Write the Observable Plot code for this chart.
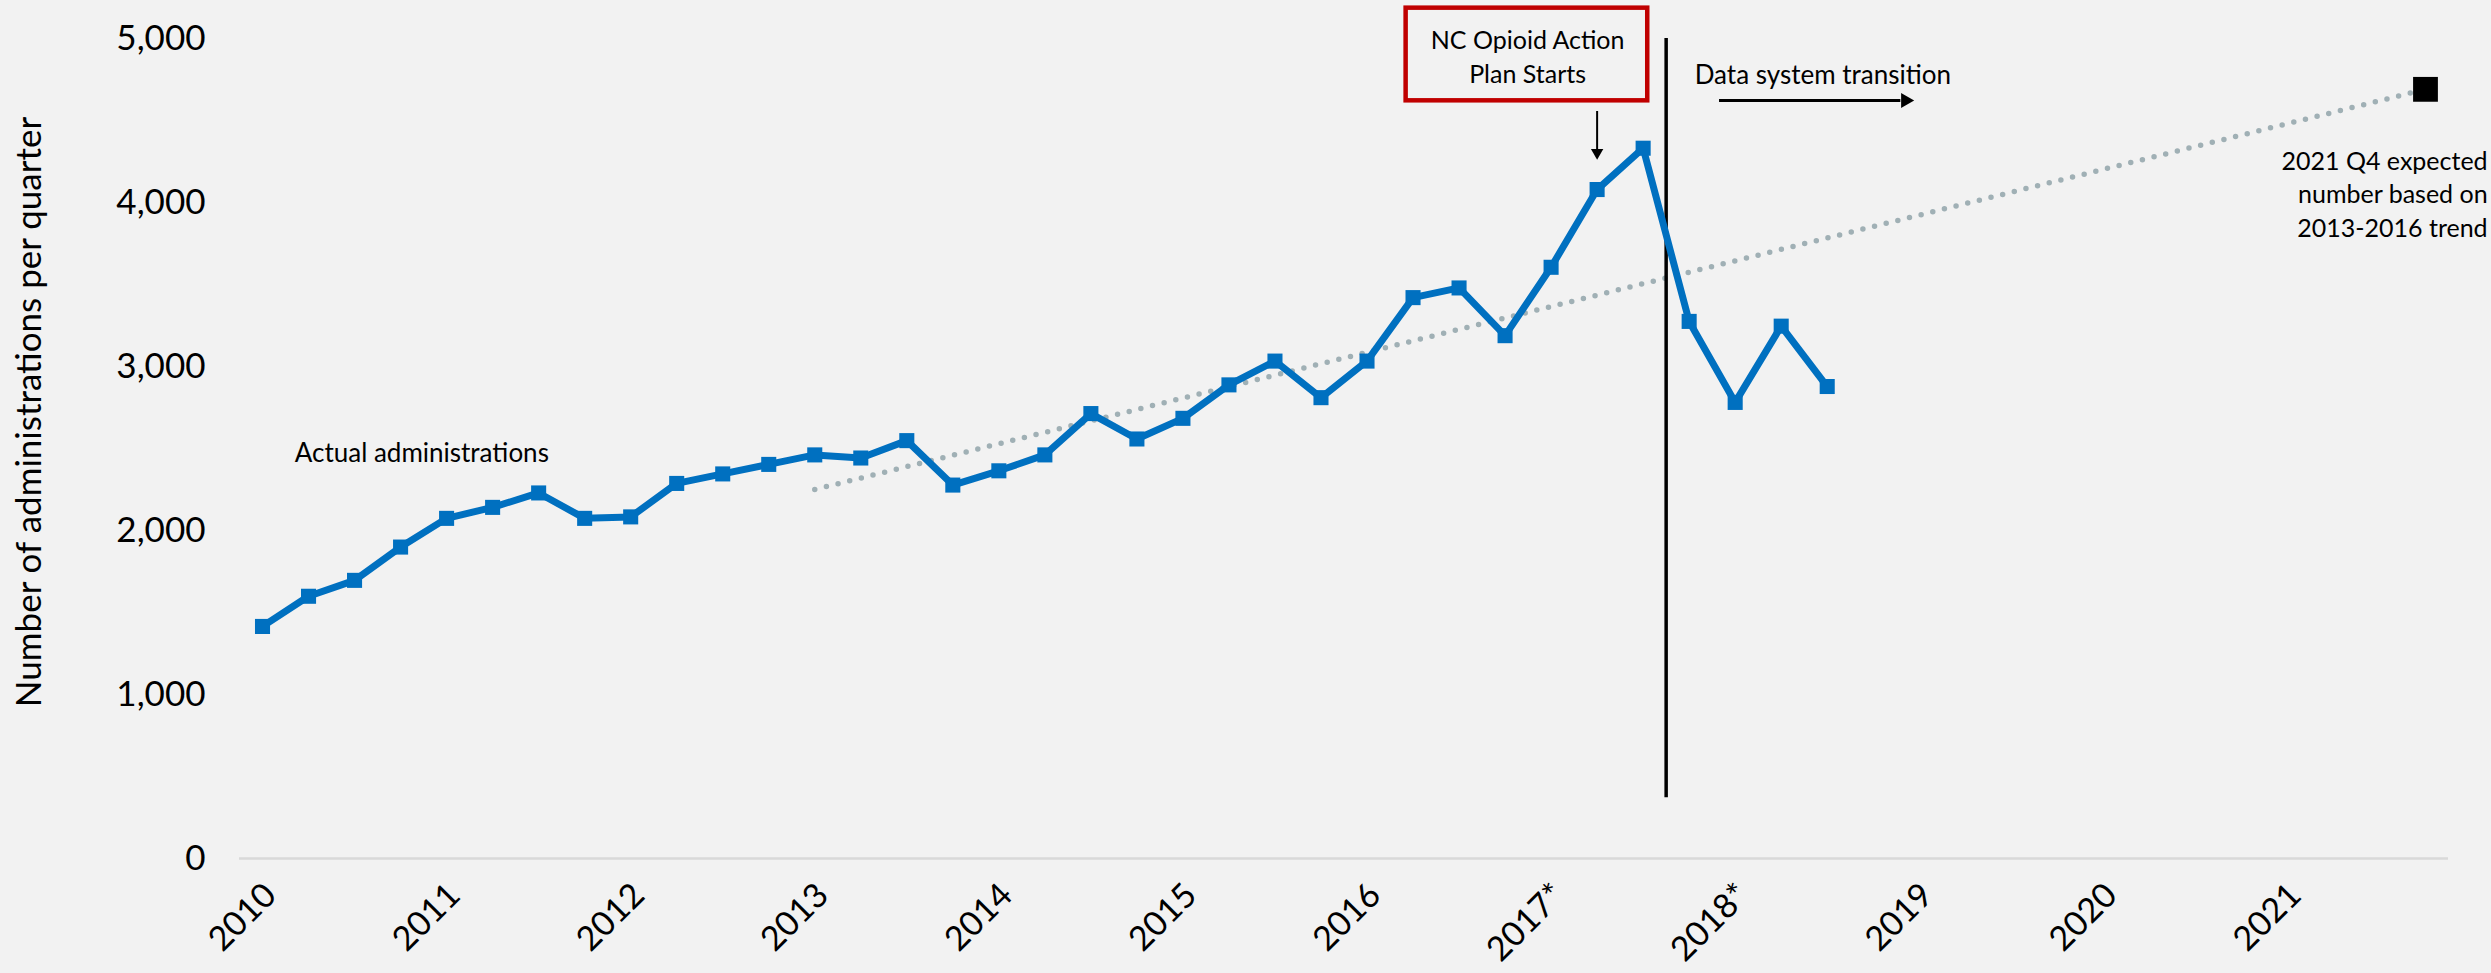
<!DOCTYPE html>
<html><head><meta charset="utf-8">
<script src="https://cdn.jsdelivr.net/npm/d3@7"></script>
<script src="https://cdn.jsdelivr.net/npm/@observablehq/plot@0.6"></script>
<style>
html,body{margin:0;padding:0;background:#F2F2F2;overflow:hidden;}
svg{display:block;}
</style></head><body><div id="chart"></div>
<script>
// Categories: quarters 2010 Q1 .. 2021 Q4
const yearLabels = ["2010","2011","2012","2013","2014","2015","2016","2017*","2018*","2019","2020","2021"];
const quarterLabels = ["Q1","Q2","Q3","Q4"];
const categories = yearLabels.flatMap(y => quarterLabels.map(q => `${y} ${q}`));

// Actual administrations per quarter (2010 Q1 .. 2018 Q3)
const actualValues = [1415,1599,1696,1899,2074,2141,2229,2074,2083,2287,2345,2403,2461,2442,2548,2277,2364,2461,2713,2558,2684,2888,3033,2810,3033,3420,3479,3188,3605,4079,4331,3275,2781,3246,2878];

// 2013-2016 trend line endpoints
const trendQuarters = ["2013 Q1","2021 Q4"];
const trendValues = [2250, 4690];

// Expected value marker
const expectedQuarter = "2021 Q4";
const expectedValue = 4690;

const yTicks = [0,1000,2000,3000,4000,5000];
const yTitle = "Number of administrations per quarter";

const idx = c => categories.indexOf(c);
const actual = actualValues.map((v,i) => ({q: i, v, label: categories[i]}));
const trend = trendQuarters.map((c,i) => ({q: idx(c), v: trendValues[i]}));
const expected = [{q: idx(expectedQuarter), v: expectedValue}];
const xTicks = yearLabels.map(y => idx(`${y} Q1`));
const transitionQ = (idx("2017* Q3") + idx("2017* Q4")) / 2;

const font = "Lato, 'Open Sans', sans-serif";

const chart = Plot.plot({
  width: 2491, height: 973,
  marginLeft: 239, marginRight: 43, marginTop: 38, marginBottom: 115,
  style: {background: "#F2F2F2", fontFamily: font, color: "black", overflow: "visible"},
  x: {domain: [-0.5, categories.length - 0.5]},
  y: {domain: [0, 5000]},
  marks: [
    Plot.axisY({ticks: yTicks, tickFormat: d3.format(","), tickSize: 0, tickPadding: 34, fontSize: 35, label: null}),
    Plot.axisX({ticks: xTicks, tickFormat: i => yearLabels[i/4], tickRotate: -45, tickSize: 0, tickPadding: 31, dx: 8, fontSize: 34, label: null}),
    Plot.ruleY([0], {stroke: "#D9D9D9", strokeWidth: 2.5}),
    Plot.text([yTitle], {frameAnchor: "left", textAnchor: "middle", dx: -210, dy: -36.5, rotate: -90, fontSize: 35, fill: "black"}),
    Plot.line(trend, {x: "q", y: "v", stroke: "#A0B0B5", strokeWidth: 5.5, strokeDasharray: "0,12", strokeLinecap: "round"}),
    Plot.ruleX([transitionQ], {y1: 370, y2: 5000, stroke: "black", strokeWidth: 3.5}),
    Plot.line(actual, {x: "q", y: "v", stroke: "#0070C0", strokeWidth: 7, strokeLinejoin: "miter"}),
    Plot.dot(actual, {x: "q", y: "v", symbol: "square", r: 8.5, fill: "#0070C0"}),
    Plot.dot(expected, {x: "q", y: "v", symbol: "square", r: 14, fill: "black"}),
    // annotation box
    Plot.rect([0], {x1: 24.85, x2: 30.1, y1: 4620, y2: 5185, fill: "none", stroke: "#C00000", strokeWidth: 4.5}),
    Plot.text(["NC Opioid Action\nPlan Starts"], {x: 27.49, y: 4896, fontSize: 25, lineHeight: 1.36, fill: "black"}),
    // down arrow
    Plot.ruleX([29], {y1: 4555, y2: 4310, stroke: "black", strokeWidth: 2}),
    Plot.dot([0], {x: 29, y: 4305, symbol: "triangle", r: 4.6, fill: "black", stroke: null, rotate: 180}),
    // data system transition
    Plot.text(["Data system transition"], {x: 31.12, y: 4774, textAnchor: "start", fontSize: 26, fill: "black"}),
    Plot.ruleY([4622], {x1: 31.66, x2: 35.6, stroke: "black", strokeWidth: 3}),
    Plot.dot([0], {x: 35.70, y: 4622, symbol: "triangle", r: 5.6, fill: "black", stroke: null, rotate: 90}),
    Plot.text(["Actual administrations"], {x: 0.70, y: 2470, textAnchor: "start", fontSize: 26, fill: "black"}),
    Plot.text(["2021 Q4 expected\nnumber based on\n2013-2016 trend"], {x: 48.35, y: 4061, textAnchor: "end", fontSize: 25, lineHeight: 1.34, fill: "black"})
  ]
});
document.getElementById("chart").appendChild(chart);
</script></body></html>
